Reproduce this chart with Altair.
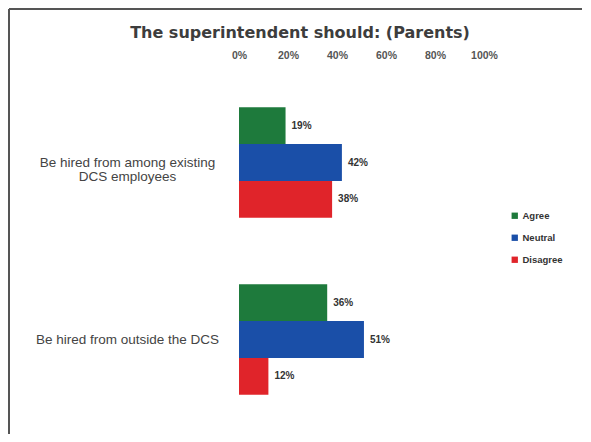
import altair as alt
import pandas as pd

questions = ["Be hired from among existing|DCS employees", "Be hired from outside the DCS"]
responses = ["Agree", "Neutral", "Disagree"]
values_q1 = [19, 42, 38]
values_q2 = [36, 51, 12]
colors = ["#1e7a3c", "#1a4fa8", "#e0242a"]
tick_values = [0, 20, 40, 60, 80, 100]
title_text = "The superintendent should: (Parents)"

rows = []
for q, vals in zip(questions, [values_q1, values_q2]):
    for r, v in zip(responses, vals):
        rows.append({"question": q, "response": r, "value": v, "label": f"{v}%"})
df = pd.DataFrame(rows)

W, H = 245, 354

base = alt.Chart(df).encode(
    y=alt.Y("question:N", sort=questions,
            scale=alt.Scale(paddingInner=0.375, paddingOuter=0.1875),
            axis=alt.Axis(title=None, domain=False, ticks=False, labelAlign="center",
                          labelPadding=112, labelFontSize=13.5, labelColor="#444444",
                          labelFont="Liberation Sans", labelLineHeight=14,
                          labelExpr="split(datum.label, '|')", labelLimit=300)),
    yOffset=alt.YOffset("response:N", sort=responses,
                        scale=alt.Scale(paddingInner=0, paddingOuter=0)),
)

bars = base.mark_bar(stroke=None).encode(
    x=alt.X("value:Q", scale=alt.Scale(domain=[0, 100]),
            axis=alt.Axis(orient="top", title=None, values=tick_values, domain=False,
                          ticks=False, grid=False, labelFontSize=10.5, labelFontWeight="bold",
                          labelColor="#555555", labelPadding=14, labelFlush=False,
                          labelFont="Liberation Sans",
                          labelExpr="datum.value + '%'")),
    color=alt.Color("response:N", sort=responses,
                    scale=alt.Scale(domain=responses, range=colors),
                    legend=alt.Legend(title=None, orient="none", legendX=271, legendY=137,
                                      symbolType="square", symbolSize=40, symbolStrokeWidth=0,
                                      labelFontSize=9.5, labelFontWeight="bold",
                                      labelColor="#333333", labelFont="Liberation Sans",
                                      rowPadding=11, labelOffset=3)),
)

text = base.mark_text(align="left", dx=6, fontSize=10, fontWeight="bold",
                      color="#333333", font="Liberation Sans").encode(
    x=alt.X("value:Q"),
    text="label:N",
)

title = alt.Chart(alt.Data(values=[{"t": title_text}])).mark_text(
    align="center", baseline="alphabetic", fontSize=16, fontWeight="bold",
    color="#3d3d3d", font="DejaVu Sans").encode(
    x=alt.value(61), y=alt.value(-36), text="t:N")

frame_top = alt.Chart(alt.Data(values=[{}])).mark_rule(color="#555555", strokeWidth=2).encode(
    x=alt.value(-230), x2=alt.value(W + 98), y=alt.value(-65))
frame_left = alt.Chart(alt.Data(values=[{}])).mark_rule(color="#555555", strokeWidth=2).encode(
    x=alt.value(-230), y=alt.value(-65), y2=alt.value(H + 12))

chart = alt.layer(bars, text, title, frame_top, frame_left).properties(
    width=W, height=H,
    padding={"left": 231, "top": 66, "right": 99, "bottom": 6},
    autosize=alt.AutoSizeParams(type="none"),
    background="white",
).configure_view(strokeOpacity=0, strokeWidth=0)

chart.save("out.html", embed_options={"renderer": "svg", "actions": False})
